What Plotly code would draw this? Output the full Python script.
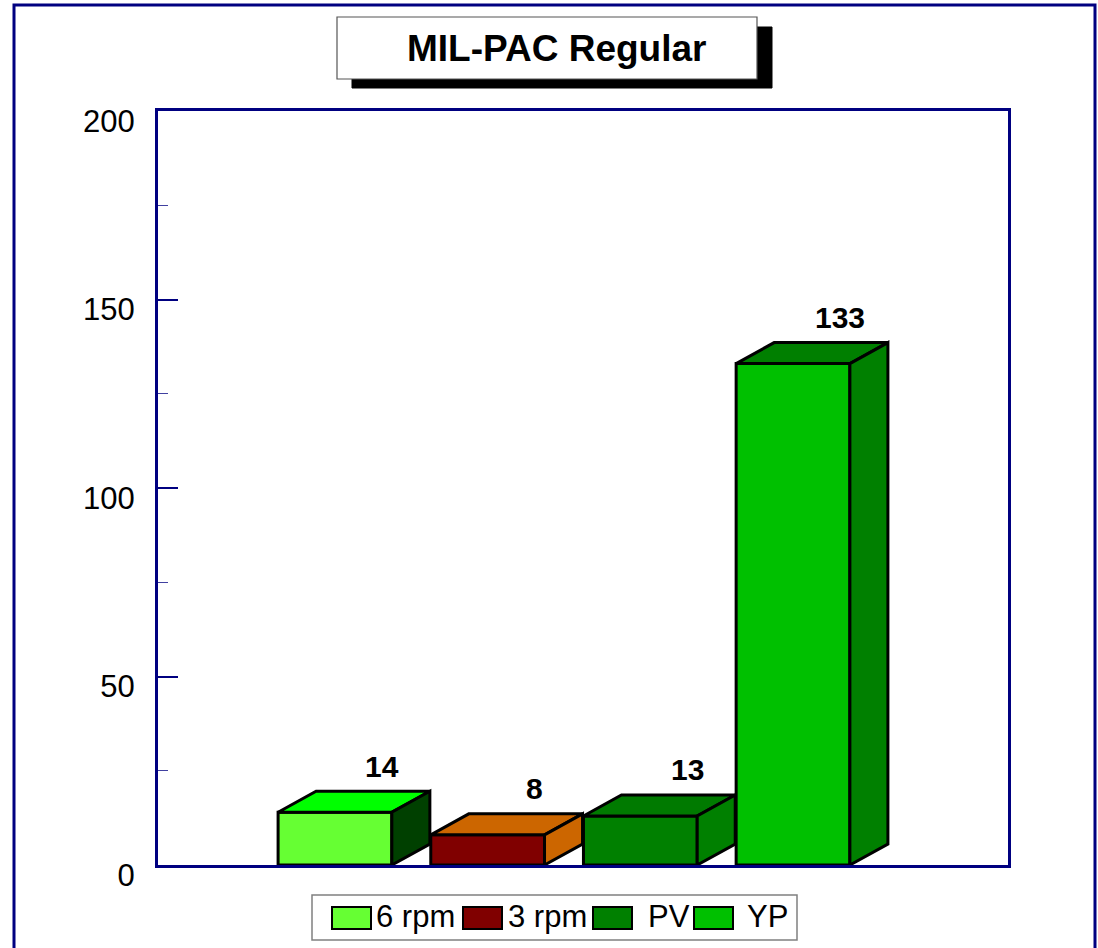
import plotly.graph_objs as go

# ========================= data =========================
categories = ["6 rpm", "3 rpm", "PV", "YP"]
values = [14, 8, 13, 133]
front_colors = ["#66FF33", "#800000", "#008000", "#00C000"]
top_colors = ["#00FF00", "#CC6600", "#007A00", "#007F00"]
side_colors = ["#004000", "#CC6600", "#008000", "#008000"]
y_ticks = [0, 50, 100, 150, 200]

title_text = "MIL-PAC Regular"

# ========================= geometry =========================
W, H = 1098, 948
L, R, T, B = 158, 1008, 111, 865   # plot area in pixels
FONT = "Arial, Liberation Sans, sans-serif"
NAVY = "#000080"

bar_w = 0.745
depth_x = 0.249      # 3d offset in x units
depth_y = 5.57       # 3d offset in y units


def px(x):
    return (x - L) / (R - L)


def py(y):
    return (B - y) / (B - T)


xs = list(range(len(categories)))

fig = go.Figure()

# front faces
fig.add_trace(go.Bar(
    x=xs, y=values, width=bar_w,
    marker=dict(color=front_colors, line=dict(color="black", width=3)),
    showlegend=False, hoverinfo="skip",
))

# top and side faces
for i, v in enumerate(values):
    x0, x1 = i - bar_w / 2, i + bar_w / 2
    fig.add_trace(go.Scatter(
        x=[x0, x1, x1 + depth_x, x0 + depth_x, x0],
        y=[v, v, v + depth_y, v + depth_y, v],
        fill="toself", fillcolor=top_colors[i], mode="lines",
        line=dict(color="black", width=3), showlegend=False, hoverinfo="skip",
    ))
    fig.add_trace(go.Scatter(
        x=[x1, x1 + depth_x, x1 + depth_x, x1, x1],
        y=[0, depth_y, v + depth_y, v, 0],
        fill="toself", fillcolor=side_colors[i], mode="lines",
        line=dict(color="black", width=3), showlegend=False, hoverinfo="skip",
    ))
    fig.add_annotation(
        x=i + depth_x, y=v + depth_y, text=f"<b>{v}</b>", showarrow=False,
        xanchor="center", yanchor="middle",
        xshift=9, yshift=25, font=dict(family=FONT, size=30, color="black"),
    )

shapes = []
# outer frame
shapes.append(dict(type="rect", xref="paper", yref="paper",
                   x0=px(14), x1=px(1095), y0=py(1010), y1=py(5),
                   line=dict(color=NAVY, width=3), layer="below"))
# title box with shadow
shapes.append(dict(type="rect", xref="paper", yref="paper",
                   x0=px(352), x1=px(772), y0=py(88), y1=py(27),
                   fillcolor="black", line=dict(color="black", width=1)))
shapes.append(dict(type="rect", xref="paper", yref="paper",
                   x0=px(337), x1=px(757), y0=py(79), y1=py(17),
                   fillcolor="white", line=dict(color="#555555", width=1.2)))
fig.add_annotation(xref="paper", yref="paper", x=px(556), y=py(49),
                   xanchor="center", yanchor="middle",
                   text=f"<b>{title_text}</b>", showarrow=False,
                   font=dict(family=FONT, size=37, color="black"))

# legend (drawn by hand to get the big swatches)
shapes.append(dict(type="rect", xref="paper", yref="paper",
                   x0=px(312), x1=px(797), y0=py(940), y1=py(895),
                   fillcolor="white", line=dict(color="#808080", width=1.5)))
sw_x = [332, 463, 593, 694]
txt_x = [376, 508, 648, 747]
for i, name in enumerate(categories):
    shapes.append(dict(type="rect", xref="paper", yref="paper",
                       x0=px(sw_x[i]), x1=px(sw_x[i] + 39), y0=py(929), y1=py(907),
                       fillcolor=front_colors[i], line=dict(color="black", width=2)))
    fig.add_annotation(xref="paper", yref="paper", x=px(txt_x[i] - 2), y=py(916),
                       xanchor="left", yanchor="middle", text=name, showarrow=False,
                       font=dict(family=FONT, size=31, color="black"))

fig.update_layout(
    width=W, height=H,
    margin=dict(l=L, r=W - R, t=T, b=H - B, pad=0),
    paper_bgcolor="white", plot_bgcolor="white",
    shapes=shapes,
    showlegend=False,
    xaxis=dict(range=[-1.159, 4.408], showticklabels=False, showgrid=False,
               zeroline=False, showline=True, mirror=True, linecolor=NAVY,
               linewidth=3, ticks=""),
    yaxis=dict(range=[0, 200], tickvals=y_ticks, showgrid=False, zeroline=False,
               showline=True, mirror=True, linecolor=NAVY, linewidth=3,
               ticks="inside", ticklen=20, tickwidth=1.5, tickcolor=NAVY,
               minor=dict(ticks="inside", ticklen=10, tickwidth=1.2,
                          tickcolor="#4040a0", dtick=25),
               ticklabelstandoff=14, ticklabelshift=10,
               tickfont=dict(family=FONT, size=31, color="black")),
)

# drop the default page margin so the figure sits at the window corner
fig.write_html("out.html", config={"displayModeBar": False},
               post_script="document.body.style.margin='0';")
